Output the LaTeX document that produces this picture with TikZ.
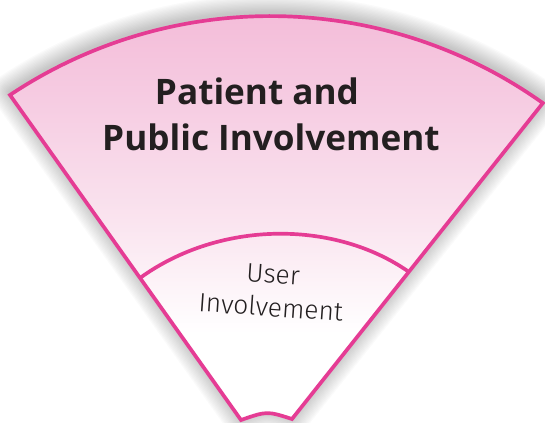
\documentclass[tikz,border=0pt]{standalone}
\usepackage{fontspec}
\setmainfont{Open Sans}
\newfontfamily\lightfont{Fira Sans Light}
\definecolor{pinkline}{RGB}{229,60,148}
\definecolor{pinktop}{RGB}{243,184,214}
\definecolor{pinkhi}{RGB}{246,204,226}
\definecolor{pinkmid}{RGB}{250,228,239}
\definecolor{textdark}{RGB}{35,31,32}
\pgfdeclareverticalshading{fanshade}{100bp}{color(0bp)=(white); color(35bp)=(white); color(48bp)=(pinkmid); color(62bp)=(pinkhi); color(75bp)=(pinktop); color(100bp)=(pinktop)}
\tikzset{
  fanborder/.style={draw=pinkline, line width=2.1pt, line join=miter},
  halo/.style={draw=black!70, opacity=0.024, line join=round},
  titletext/.style={font=\fontsize{20}{24}\selectfont\bfseries, text=textdark, inner sep=0pt},
  usertext/.style={font=\lightfont\fontsize{15}{19}\selectfont, text=textdark, align=center, inner sep=0pt}
}
\newcommand{\fanpath}{(10,95) arc[start angle=236.3, end angle=305.43, radius=469.7] -- (292,419) .. controls (267,411) .. (241,420) -- cycle}
\begin{document}
\begin{tikzpicture}[x=0.02cm, y=-0.02cm]
\useasboundingbox (0,0) rectangle (545,423);
\fill[white] (0,0) rectangle (545,423);
% soft shadow halo
\begin{scope}[shift={(0,-3)}]
\foreach \i in {1,...,14}{
  \draw[halo, line width=\i*1.5pt] \fanpath;
}
\end{scope}
% fill
\shade[shading=fanshade] \fanpath;
% named corners
\coordinate (L) at (10,95);
\coordinate (R) at (543,103);
\coordinate (IL) at (140,278);
\coordinate (IR) at (409,272);
% inner arc
\draw[fanborder] (IL) .. controls (220,220) and (335,220) .. (IR);
% outline
\draw[fanborder] \fanpath;
% texts
\node[titletext] (t1) at (257,91) {Patient and};
\node[titletext] (t2) at (271,137) {Public Involvement};
\node[usertext, rotate=-4] (user) at (272,291) {User\\[0pt]Involvement};
\end{tikzpicture}
\end{document}
